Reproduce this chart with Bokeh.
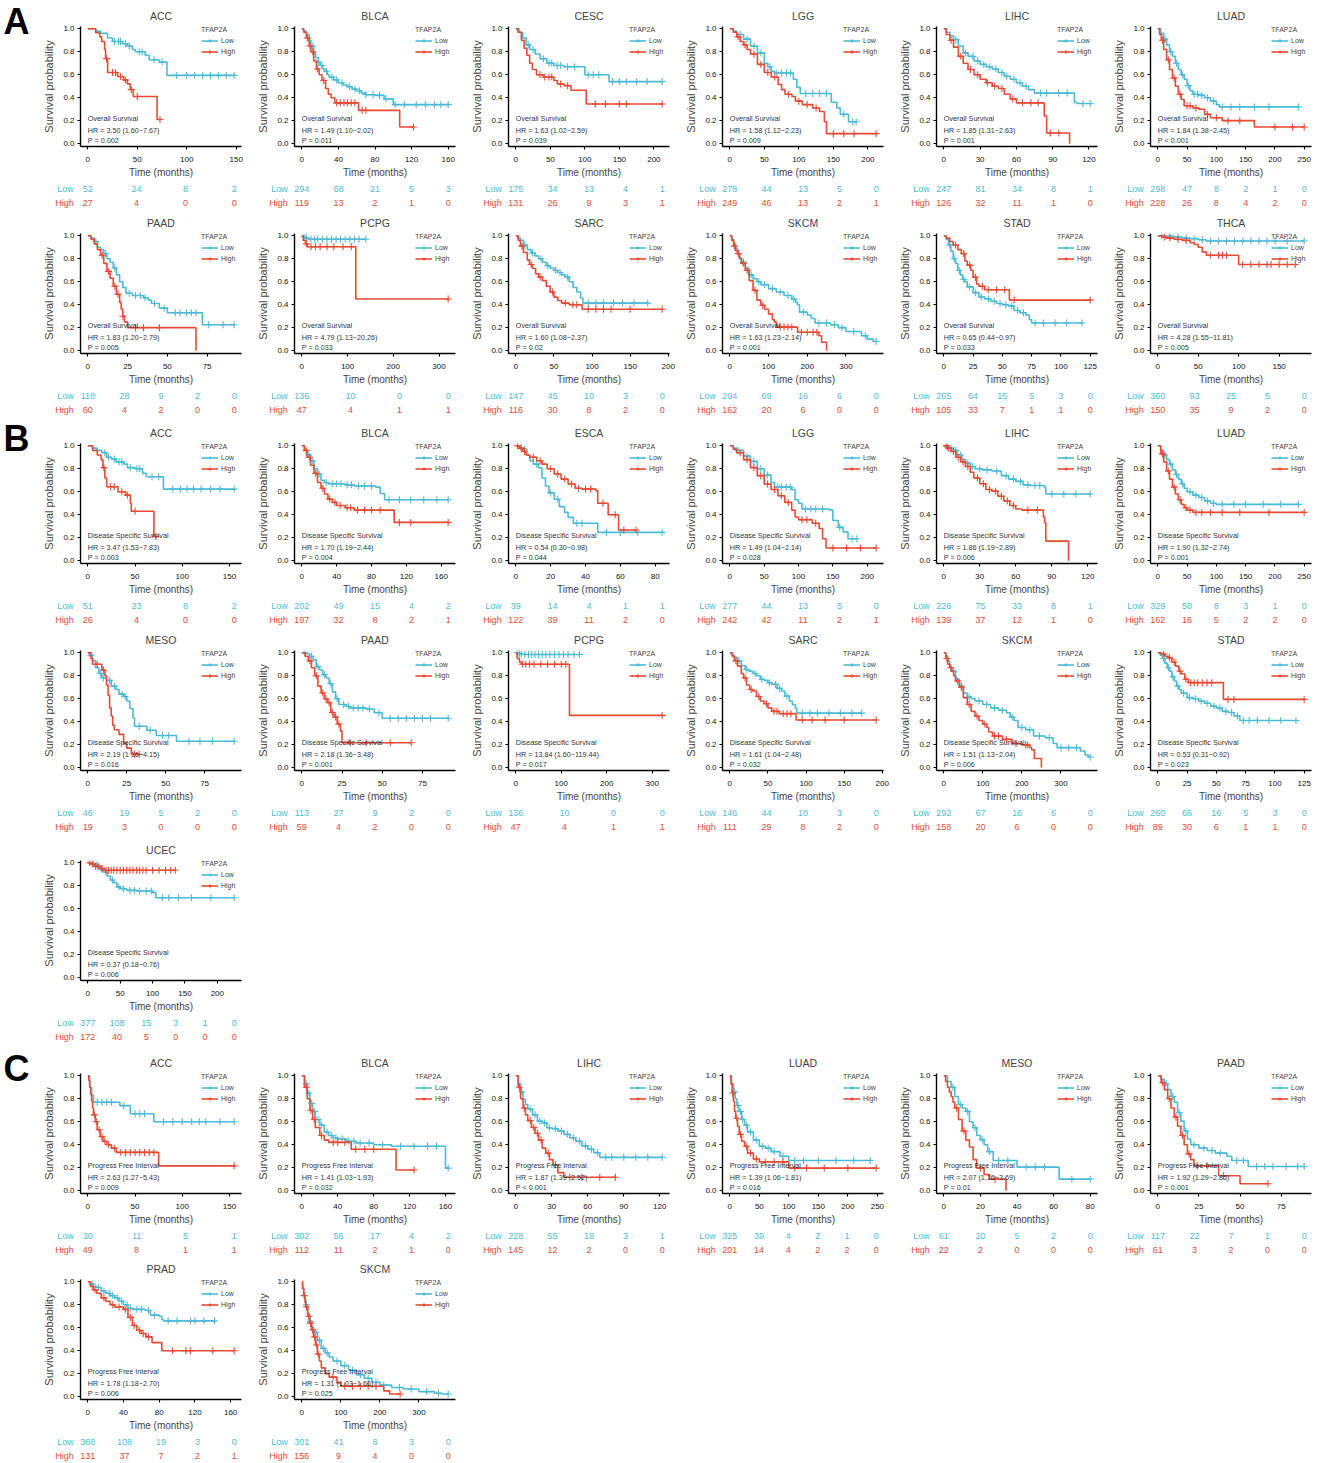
from bokeh.plotting import figure
from bokeh.models import (Range1d, FixedTicker, PrintfTickFormatter, Legend, LegendItem,
                          Label, Spacer)
from bokeh.core.properties import value
from bokeh.layouts import row, column
from bokeh.embed import file_html
from bokeh.resources import INLINE

FONT = "Liberation Sans"
LOW_COLOR = "#4DBBD5"
HIGH_COLOR = "#E64B35"
GROUPS = ["Low", "High"]
LEGEND_TITLE = "TFAP2A"
Y_TICKS = [0.0, 0.2, 0.4, 0.6, 0.8, 1.0]

# ======================= A : Overall Survival =======================
A_ACC_TICKS = [0, 50, 100, 150]
A_ACC_LOW_T = [8, 13, 20, 25, 35, 40, 45, 48, 58, 62, 72, 80, 148]
A_ACC_LOW_S = [.98, .96, .92, .89, .87, .85, .82, .80, .77, .73, .71, .594, .594]
A_ACC_LOW_C = [27, 31, 33, 38, 42, 52, 55, 67, 75, 90, 100, 108, 116, 124, 132, 140, 148]
A_ACC_HIGH_T = [8, 12, 14, 17, 18, 20, 30, 36, 40, 43, 46, 70, 73]
A_ACC_HIGH_S = [.965, .93, .89, .82, .74, .62, .585, .555, .52, .47, .41, .21, .21]
A_ACC_HIGH_C = [19, 25, 28, 33, 38, 44, 50, 73]
A_ACC_RISK_LOW = [52, 24, 8, 2]
A_ACC_RISK_HIGH = [27, 4, 0, 0]

A_BLCA_TICKS = [0, 40, 80, 120, 160]
A_BLCA_LOW_T = [2, 5, 8, 10, 13, 15, 18, 20, 23, 25, 28, 30, 35, 40, 45, 50, 55, 60, 65, 70, 80, 90, 100, 160]
A_BLCA_LOW_S = [.98, .95, .90, .85, .79, .75, .71, .68, .65, .63, .60, .58, .555, .53, .51, .495, .475, .46, .44, .426, .42, .39, .34, .34]
A_BLCA_LOW_C = [12, 18, 22, 27, 33, 38, 44, 52, 58, 63, 70, 78, 85, 92, 102, 112, 125, 135, 145, 152, 160]
A_BLCA_HIGH_T = [2, 5, 8, 10, 13, 16, 19, 22, 26, 29, 32, 36, 62, 107, 122]
A_BLCA_HIGH_S = [.97, .92, .85, .80, .72, .65, .60, .55, .48, .43, .40, .355, .29, .145, .145]
A_BLCA_HIGH_C = [6, 9, 12, 17, 24, 38, 42, 46, 50, 54, 58, 66, 70, 122]
A_BLCA_RISK_LOW = [294, 68, 21, 5, 3]
A_BLCA_RISK_HIGH = [119, 13, 2, 1, 0]

A_CESC_TICKS = [0, 50, 100, 150, 200]
A_CESC_LOW_T = [5, 10, 15, 20, 28, 35, 45, 55, 70, 100, 135, 212]
A_CESC_LOW_S = [.97, .92, .86, .82, .78, .74, .70, .68, .67, .60, .54, .54]
A_CESC_LOW_C = [18, 25, 40, 48, 52, 60, 65, 75, 85, 105, 112, 120, 140, 150, 160, 175, 190, 212]
A_CESC_HIGH_T = [3, 8, 12, 16, 20, 24, 30, 40, 55, 60, 70, 80, 102, 212]
A_CESC_HIGH_S = [.97, .90, .83, .77, .70, .645, .60, .58, .55, .52, .505, .465, .345, .345]
A_CESC_HIGH_C = [35, 42, 48, 52, 65, 75, 115, 130, 150, 160, 212]
A_CESC_RISK_LOW = [175, 34, 13, 4, 1]
A_CESC_RISK_HIGH = [131, 26, 9, 3, 1]

A_LGG_TICKS = [0, 50, 100, 150, 200]
A_LGG_LOW_T = [5, 10, 20, 30, 40, 50, 55, 60, 65, 92, 97, 102, 147, 155, 160, 172, 183]
A_LGG_LOW_S = [.98, .95, .91, .85, .79, .70, .67, .63, .615, .56, .49, .437, .36, .31, .255, .19, .19]
A_LGG_LOW_C = [15, 25, 35, 45, 58, 68, 75, 82, 88, 110, 120, 130, 140, 165, 178, 183]
A_LGG_HIGH_T = [5, 10, 15, 20, 25, 30, 40, 50, 60, 70, 75, 80, 90, 95, 105, 120, 130, 137, 140, 212]
A_LGG_HIGH_S = [.97, .93, .89, .86, .82, .78, .69, .62, .58, .515, .47, .43, .41, .37, .34, .31, .28, .19, .087, .087]
A_LGG_HIGH_C = [12, 22, 35, 45, 55, 65, 85, 100, 112, 125, 150, 165, 180, 212]
A_LGG_RISK_LOW = [278, 44, 13, 5, 0]
A_LGG_RISK_HIGH = [249, 46, 13, 2, 1]

A_LIHC_TICKS = [0, 30, 60, 90, 120]
A_LIHC_LOW_T = [2, 5, 8, 12, 16, 20, 25, 30, 35, 40, 45, 50, 55, 60, 65, 70, 75, 108, 110, 121]
A_LIHC_LOW_S = [.97, .94, .907, .85, .79, .76, .72, .69, .67, .65, .62, .587, .56, .53, .50, .47, .44, .36, .35, .35]
A_LIHC_LOW_C = [10, 18, 24, 28, 33, 38, 43, 48, 52, 58, 63, 68, 80, 85, 95, 102, 115, 121]
A_LIHC_HIGH_T = [2, 5, 8, 12, 16, 20, 25, 30, 35, 40, 45, 50, 55, 60, 83, 85, 104]
A_LIHC_HIGH_S = [.95, .90, .84, .76, .70, .645, .60, .56, .53, .50, .48, .43, .39, .355, .24, .093, 0.0]
A_LIHC_HIGH_C = [6, 14, 22, 28, 36, 42, 48, 57, 65, 72, 78, 88, 95]
A_LIHC_RISK_LOW = [247, 81, 34, 8, 1]
A_LIHC_RISK_HIGH = [126, 32, 11, 1, 0]

A_LUAD_TICKS = [0, 50, 100, 150, 200, 250]
A_LUAD_LOW_T = [5, 10, 15, 20, 25, 30, 35, 40, 45, 50, 55, 60, 70, 80, 90, 100, 105, 240]
A_LUAD_LOW_S = [.96, .91, .86, .80, .76, .70, .645, .60, .56, .505, .46, .43, .42, .40, .37, .34, .32, .32]
A_LUAD_LOW_C = [12, 22, 32, 42, 52, 62, 68, 75, 85, 95, 110, 125, 140, 165, 190, 240]
A_LUAD_HIGH_T = [3, 6, 10, 15, 20, 25, 30, 35, 40, 45, 60, 70, 80, 90, 110, 165, 250]
A_LUAD_HIGH_S = [.95, .90, .82, .73, .645, .57, .50, .43, .384, .33, .31, .30, .255, .225, .20, .145, .145]
A_LUAD_HIGH_C = [8, 18, 28, 38, 50, 55, 65, 85, 100, 120, 140, 200, 230, 250]
A_LUAD_RISK_LOW = [298, 47, 8, 2, 1, 0]
A_LUAD_RISK_HIGH = [228, 26, 8, 4, 2, 0]

A_PAAD_TICKS = [0, 25, 50, 75]
A_PAAD_LOW_T = [2, 4, 6, 8, 10, 12, 14, 16, 18, 20, 22, 24, 28, 35, 38, 40, 45, 50, 72, 92]
A_PAAD_LOW_S = [.98, .95, .90, .88, .845, .80, .77, .72, .66, .60, .55, .50, .48, .46, .44, .41, .37, .33, .225, .225]
A_PAAD_LOW_C = [5, 11, 17, 26, 30, 33, 36, 42, 48, 55, 58, 62, 65, 68, 76, 85, 92]
A_PAAD_HIGH_T = [2, 4, 6, 8, 10, 12, 14, 16, 18, 20, 21, 22, 23, 25, 68]
A_PAAD_HIGH_S = [.97, .93, .88, .83, .76, .69, .63, .56, .49, .42, .36, .30, .25, .20, 0.0]
A_PAAD_HIGH_C = [9, 13, 17, 19, 22, 30, 35, 45]
A_PAAD_RISK_LOW = [118, 28, 9, 2, 0]
A_PAAD_RISK_HIGH = [60, 4, 2, 0, 0]

A_PCPG_TICKS = [0, 100, 200, 300]
A_PCPG_LOW_T = [3, 8, 15, 140]
A_PCPG_LOW_S = [.99, .98, .97, .97]
A_PCPG_LOW_C = [5, 10, 20, 28, 35, 45, 55, 65, 75, 85, 95, 105, 115, 125, 140]
A_PCPG_HIGH_T = [3, 8, 12, 118, 320]
A_PCPG_HIGH_S = [.96, .93, .904, .45, .45]
A_PCPG_HIGH_C = [10, 20, 30, 40, 55, 70, 90, 108, 320]
A_PCPG_RISK_LOW = [136, 10, 0, 0]
A_PCPG_RISK_HIGH = [47, 4, 1, 1]

A_SARC_TICKS = [0, 50, 100, 150, 200]
A_SARC_LOW_T = [3, 6, 10, 15, 20, 25, 30, 35, 40, 45, 50, 55, 60, 65, 70, 75, 80, 85, 88, 173]
A_SARC_LOW_S = [.98, .96, .92, .88, .85, .825, .80, .77, .74, .72, .70, .68, .66, .64, .60, .55, .51, .458, .414, .414]
A_SARC_LOW_C = [12, 22, 33, 42, 52, 58, 68, 95, 105, 115, 128, 140, 155, 173]
A_SARC_HIGH_T = [3, 6, 10, 15, 18, 22, 26, 30, 35, 40, 45, 50, 55, 60, 70, 87, 192]
A_SARC_HIGH_S = [.96, .91, .855, .79, .75, .715, .67, .64, .61, .56, .51, .466, .437, .414, .40, .36, .36]
A_SARC_HIGH_C = [8, 20, 32, 48, 65, 75, 80, 95, 105, 115, 125, 150, 192]
A_SARC_RISK_LOW = [147, 45, 10, 3, 0]
A_SARC_RISK_HIGH = [116, 30, 8, 2, 0]

A_SKCM_TICKS = [0, 100, 200, 300]
A_SKCM_LOW_T = [5, 10, 15, 20, 25, 30, 40, 50, 60, 70, 80, 100, 120, 140, 160, 170, 175, 180, 200, 210, 220, 260, 280, 300, 340, 355, 370, 378]
A_SKCM_LOW_S = [.97, .93, .89, .85, .81, .77, .715, .66, .627, .60, .575, .54, .51, .48, .45, .42, .40, .335, .31, .28, .24, .225, .20, .166, .13, .10, .08, .08]
A_SKCM_LOW_C = [35, 55, 75, 90, 110, 130, 150, 165, 190, 230, 250, 270, 290, 320, 350, 378]
A_SKCM_HIGH_T = [5, 10, 15, 20, 25, 30, 40, 50, 60, 70, 80, 90, 100, 110, 115, 120, 175, 230, 237, 250]
A_SKCM_HIGH_S = [.96, .91, .87, .845, .80, .76, .70, .61, .525, .44, .395, .36, .32, .27, .25, .205, .16, .13, .073, 0.0]
A_SKCM_HIGH_C = [12, 22, 35, 45, 65, 85, 130, 140, 150, 160, 185, 200, 215, 225]
A_SKCM_RISK_LOW = [294, 69, 16, 6, 0]
A_SKCM_RISK_HIGH = [162, 20, 6, 0, 0]

A_STAD_TICKS = [0, 25, 50, 75, 100, 125]
A_STAD_LOW_T = [2, 4, 6, 8, 10, 12, 14, 16, 18, 20, 25, 30, 35, 40, 45, 50, 55, 60, 65, 70, 73, 75, 118]
A_STAD_LOW_S = [.97, .92, .866, .80, .76, .70, .66, .62, .60, .555, .505, .467, .45, .43, .41, .40, .39, .35, .33, .31, .27, .24, .24]
A_STAD_LOW_C = [5, 9, 13, 17, 22, 27, 32, 38, 43, 48, 53, 58, 63, 68, 78, 85, 95, 105, 118]
A_STAD_HIGH_T = [2, 5, 8, 12, 15, 18, 20, 23, 25, 28, 30, 35, 56, 125]
A_STAD_HIGH_S = [.98, .95, .92, .88, .845, .78, .745, .70, .64, .58, .56, .53, .44, .44]
A_STAD_HIGH_C = [10, 17, 22, 27, 33, 38, 45, 52, 60, 125]
A_STAD_RISK_LOW = [265, 64, 15, 5, 3, 0]
A_STAD_RISK_HIGH = [105, 33, 7, 1, 1, 0]

A_THCA_TICKS = [0, 50, 100, 150]
A_THCA_LOW_T = [10, 20, 30, 40, 50, 60, 181]
A_THCA_LOW_S = [.995, .99, .98, .975, .965, .955, .955]
A_THCA_LOW_C = [5, 15, 25, 35, 45, 55, 65, 75, 85, 95, 105, 115, 125, 135, 145, 160, 181]
A_THCA_HIGH_T = [5, 10, 20, 30, 40, 45, 50, 55, 60, 100, 170]
A_THCA_HIGH_S = [.99, .98, .97, .96, .94, .924, .90, .86, .83, .75, .75]
A_THCA_HIGH_C = [8, 15, 25, 35, 65, 75, 80, 85, 105, 115, 125, 135, 140, 150, 160, 170]
A_THCA_RISK_LOW = [360, 93, 25, 5, 0]
A_THCA_RISK_HIGH = [150, 35, 9, 2, 0]

# ======================= B : Disease Specific Survival =======================
B_ACC_TICKS = [0, 50, 100, 150]
B_ACC_LOW_T = [5, 10, 15, 20, 25, 30, 38, 42, 50, 58, 62, 80, 155]
B_ACC_LOW_S = [.98, .96, .94, .90, .885, .86, .84, .81, .80, .76, .73, .623, .623]
B_ACC_LOW_C = [18, 22, 28, 33, 36, 45, 52, 55, 68, 75, 90, 98, 105, 112, 120, 130, 140, 155]
B_ACC_HIGH_T = [5, 10, 14, 16, 18, 20, 32, 40, 45, 46, 70, 72]
B_ACC_HIGH_S = [.96, .92, .88, .81, .72, .643, .60, .57, .50, .43, .21, .21]
B_ACC_HIGH_C = [17, 24, 28, 36, 42, 50, 72]
B_ACC_RISK_LOW = [51, 23, 8, 2]
B_ACC_RISK_HIGH = [26, 4, 0, 0]

B_BLCA_TICKS = [0, 40, 80, 120, 160]
B_BLCA_LOW_T = [3, 6, 10, 14, 18, 22, 26, 30, 50, 60, 85, 90, 95, 168]
B_BLCA_LOW_S = [.97, .92, .87, .80, .754, .70, .68, .67, .66, .65, .64, .585, .53, .53]
B_BLCA_LOW_C = [8, 12, 20, 28, 35, 40, 45, 52, 57, 65, 72, 80, 100, 112, 125, 140, 155, 168]
B_BLCA_HIGH_T = [3, 6, 10, 14, 18, 22, 26, 30, 35, 40, 50, 60, 106, 168]
B_BLCA_HIGH_S = [.96, .90, .83, .76, .68, .63, .58, .536, .507, .48, .46, .44, .333, .333]
B_BLCA_HIGH_C = [5, 9, 16, 24, 32, 38, 44, 52, 56, 64, 72, 80, 90, 112, 125, 168]
B_BLCA_RISK_LOW = [202, 49, 15, 4, 2]
B_BLCA_RISK_HIGH = [197, 32, 8, 2, 1]

B_ESCA_TICKS = [0, 20, 40, 60, 80]
B_ESCA_LOW_T = [3, 6, 8, 10, 13, 15, 17, 19, 22, 25, 28, 30, 33, 47, 84]
B_ESCA_LOW_S = [.97, .92, .87, .84, .806, .72, .65, .59, .535, .47, .42, .377, .325, .246, .246]
B_ESCA_LOW_C = [5, 12, 20, 24, 35, 38, 52, 60, 70, 84]
B_ESCA_HIGH_T = [2, 4, 6, 8, 12, 15, 18, 22, 26, 30, 34, 38, 46, 47, 53, 59, 69]
B_ESCA_HIGH_S = [.98, .95, .92, .90, .87, .84, .80, .754, .71, .667, .63, .623, .61, .50, .40, .267, .267]
B_ESCA_HIGH_C = [1, 3, 5, 10, 14, 20, 24, 28, 32, 36, 40, 43, 50, 57, 62, 69]
B_ESCA_RISK_LOW = [39, 14, 4, 1, 1]
B_ESCA_RISK_HIGH = [122, 39, 11, 2, 0]

B_LGG_TICKS = [0, 50, 100, 150, 200]
B_LGG_LOW_T = [5, 10, 20, 30, 40, 50, 60, 65, 90, 95, 100, 105, 145, 150, 158, 165, 172, 185]
B_LGG_LOW_S = [.98, .96, .91, .864, .80, .745, .68, .64, .62, .53, .50, .45, .44, .35, .29, .25, .19, .19]
B_LGG_LOW_C = [12, 25, 35, 45, 55, 70, 75, 82, 88, 110, 118, 125, 135, 160, 178, 185]
B_LGG_HIGH_T = [5, 10, 20, 30, 40, 50, 60, 70, 80, 90, 95, 100, 120, 130, 135, 140, 213]
B_LGG_HIGH_S = [.97, .94, .88, .81, .74, .667, .62, .565, .507, .44, .38, .357, .325, .28, .19, .11, .11]
B_LGG_HIGH_C = [15, 25, 35, 45, 55, 65, 75, 85, 105, 112, 125, 150, 170, 190, 213]
B_LGG_RISK_LOW = [277, 44, 13, 5, 0]
B_LGG_RISK_HIGH = [242, 42, 11, 2, 1]

B_LIHC_TICKS = [0, 30, 60, 90, 120]
B_LIHC_LOW_T = [2, 5, 8, 11, 15, 18, 22, 26, 32, 40, 48, 54, 60, 66, 72, 84, 85, 122]
B_LIHC_LOW_S = [.99, .98, .96, .92, .88, .85, .82, .80, .79, .78, .74, .71, .69, .66, .654, .64, .58, .58]
B_LIHC_LOW_C = [3, 6, 10, 14, 20, 24, 30, 36, 44, 52, 58, 64, 70, 76, 80, 90, 100, 110, 122]
B_LIHC_HIGH_T = [3, 6, 10, 14, 18, 22, 25, 30, 35, 40, 45, 50, 55, 60, 65, 83, 84, 85, 104]
B_LIHC_HIGH_S = [.98, .95, .90, .86, .82, .77, .72, .67, .62, .605, .56, .52, .48, .45, .44, .38, .33, .17, 0.0]
B_LIHC_HIGH_C = [2, 4, 8, 12, 16, 20, 28, 33, 38, 43, 48, 53, 58, 70, 78]
B_LIHC_RISK_LOW = [226, 75, 33, 8, 1]
B_LIHC_RISK_HIGH = [139, 37, 12, 1, 0]

B_LUAD_TICKS = [0, 50, 100, 150, 200, 250]
B_LUAD_LOW_T = [5, 10, 15, 20, 25, 30, 35, 40, 45, 50, 60, 70, 80, 90, 100, 240]
B_LUAD_LOW_S = [.96, .92, .88, .84, .79, .75, .71, .67, .63, .60, .57, .55, .52, .50, .49, .49]
B_LUAD_LOW_C = [12, 22, 32, 42, 55, 65, 75, 85, 95, 110, 130, 150, 180, 210, 240]
B_LUAD_HIGH_T = [5, 10, 15, 20, 25, 30, 35, 40, 45, 50, 60, 250]
B_LUAD_HIGH_S = [.93, .86, .78, .71, .64, .58, .53, .49, .46, .44, .42, .42]
B_LUAD_HIGH_C = [8, 18, 28, 38, 48, 55, 65, 75, 90, 110, 140, 190, 250]
B_LUAD_RISK_LOW = [329, 50, 8, 3, 1, 0]
B_LUAD_RISK_HIGH = [162, 16, 5, 2, 2, 0]

B_MESO_TICKS = [0, 25, 50, 75]
B_MESO_LOW_T = [1, 3, 5, 7, 9, 12, 15, 18, 20, 23, 25, 27, 29, 30, 38, 44, 57, 94]
B_MESO_LOW_S = [.98, .93, .87, .82, .78, .76, .71, .68, .64, .62, .58, .515, .435, .36, .325, .28, .23, .23]
B_MESO_LOW_C = [2, 8, 10, 14, 17, 22, 24, 33, 40, 48, 52, 65, 72, 80, 94]
B_MESO_HIGH_T = [2, 3, 9, 11, 12, 13, 14, 15, 16, 17, 20, 23, 25, 28, 33]
B_MESO_HIGH_S = [.95, .90, .85, .80, .72, .63, .52, .45, .37, .33, .29, .21, .17, .116, .116]
B_MESO_HIGH_C = [6, 10, 30, 33]
B_MESO_RISK_LOW = [46, 19, 5, 2, 0]
B_MESO_RISK_HIGH = [19, 3, 0, 0, 0]

B_PAAD_TICKS = [0, 25, 50, 75]
B_PAAD_LOW_T = [3, 5, 7, 9, 11, 13, 15, 17, 19, 21, 23, 27, 30, 40, 45, 50, 91]
B_PAAD_LOW_S = [.99, .97, .94, .88, .85, .81, .78, .73, .66, .60, .55, .535, .52, .51, .478, .43, .43]
B_PAAD_LOW_C = [2, 6, 10, 14, 18, 22, 26, 29, 32, 35, 38, 42, 48, 55, 60, 65, 70, 75, 80, 91]
B_PAAD_HIGH_T = [2, 4, 6, 8, 10, 12, 14, 16, 18, 20, 22, 24, 25, 68]
B_PAAD_HIGH_S = [.97, .93, .87, .80, .71, .65, .60, .565, .48, .44, .38, .32, .217, .217]
B_PAAD_HIGH_C = [5, 9, 13, 15, 17, 19, 21, 23, 30, 40, 55, 68]
B_PAAD_RISK_LOW = [113, 27, 9, 2, 0]
B_PAAD_RISK_HIGH = [59, 4, 2, 0, 0]

B_PCPG_TICKS = [0, 100, 200, 300]
B_PCPG_LOW_T = [5, 15, 140]
B_PCPG_LOW_S = [.99, .985, .985]
B_PCPG_LOW_C = [3, 8, 12, 20, 28, 35, 42, 50, 58, 66, 75, 85, 95, 105, 115, 128, 140]
B_PCPG_HIGH_T = [3, 8, 12, 118, 322]
B_PCPG_HIGH_S = [.95, .92, .90, .455, .455]
B_PCPG_HIGH_C = [15, 22, 30, 40, 55, 70, 85, 100, 110, 322]
B_PCPG_RISK_LOW = [136, 10, 0, 0]
B_PCPG_RISK_HIGH = [47, 4, 1, 1]

B_SARC_TICKS = [0, 50, 100, 150, 200]
B_SARC_LOW_T = [3, 6, 10, 15, 20, 25, 30, 35, 40, 45, 50, 55, 62, 68, 72, 78, 82, 86, 88, 173]
B_SARC_LOW_S = [.98, .96, .93, .89, .855, .84, .82, .80, .77, .76, .74, .725, .69, .667, .623, .58, .55, .516, .475, .475]
B_SARC_LOW_C = [12, 22, 33, 42, 52, 60, 65, 75, 95, 105, 115, 130, 145, 160, 173]
B_SARC_HIGH_T = [3, 6, 10, 15, 18, 22, 26, 30, 35, 40, 45, 50, 55, 65, 87, 192]
B_SARC_HIGH_S = [.97, .93, .884, .82, .78, .72, .68, .667, .62, .58, .557, .52, .49, .47, .415, .415]
B_SARC_HIGH_C = [8, 20, 28, 38, 48, 58, 62, 70, 75, 80, 95, 108, 125, 150, 192]
B_SARC_RISK_LOW = [146, 44, 10, 3, 0]
B_SARC_RISK_HIGH = [111, 29, 8, 2, 0]

B_SKCM_TICKS = [0, 100, 200, 300]
B_SKCM_LOW_T = [5, 10, 15, 20, 30, 40, 50, 60, 70, 80, 100, 120, 140, 160, 170, 180, 190, 210, 230, 260, 280, 290, 350, 362, 370, 375]
B_SKCM_LOW_S = [.97, .93, .88, .84, .77, .71, .65, .615, .60, .58, .55, .52, .50, .478, .44, .41, .35, .33, .275, .26, .21, .174, .145, .11, .093, .093]
B_SKCM_LOW_C = [25, 45, 65, 90, 110, 130, 150, 175, 200, 220, 245, 270, 300, 320, 340, 375]
B_SKCM_HIGH_T = [5, 10, 15, 20, 25, 30, 40, 50, 60, 70, 80, 90, 100, 110, 115, 125, 150, 175, 200, 220, 225, 232, 250]
B_SKCM_HIGH_S = [.95, .90, .87, .84, .80, .754, .70, .61, .55, .49, .45, .41, .38, .35, .31, .275, .246, .21, .197, .175, .155, .08, 0.0]
B_SKCM_HIGH_C = [8, 18, 35, 45, 65, 85, 105, 130, 140, 160, 185, 210, 215]
B_SKCM_RISK_LOW = [292, 67, 16, 6, 0]
B_SKCM_RISK_HIGH = [158, 20, 6, 0, 0]

B_STAD_TICKS = [0, 25, 50, 75, 100, 125]
B_STAD_LOW_T = [2, 4, 6, 8, 10, 12, 14, 16, 18, 20, 25, 30, 35, 40, 45, 50, 55, 60, 65, 70, 118]
B_STAD_LOW_S = [.98, .95, .91, .87, .84, .79, .754, .71, .68, .65, .61, .60, .58, .56, .536, .52, .49, .48, .45, .41, .41]
B_STAD_LOW_C = [5, 9, 13, 17, 22, 27, 32, 37, 42, 48, 53, 58, 63, 68, 73, 78, 85, 95, 105, 118]
B_STAD_HIGH_T = [3, 6, 9, 12, 15, 18, 20, 23, 26, 56, 125]
B_STAD_HIGH_S = [.99, .97, .956, .92, .884, .84, .817, .77, .74, .594, .594]
B_STAD_HIGH_C = [5, 10, 14, 19, 24, 28, 31, 34, 38, 42, 46, 60, 65, 125]
B_STAD_RISK_LOW = [260, 66, 16, 5, 3, 0]
B_STAD_RISK_HIGH = [89, 30, 6, 1, 1, 0]

B_UCEC_TICKS = [0, 50, 100, 150, 200]
B_UCEC_LOW_T = [5, 10, 15, 20, 25, 30, 35, 40, 45, 50, 60, 75, 100, 105, 226]
B_UCEC_LOW_S = [.99, .98, .96, .94, .92, .885, .85, .826, .79, .774, .76, .754, .74, .696, .696]
B_UCEC_LOW_C = [8, 14, 22, 28, 38, 48, 55, 65, 72, 80, 90, 98, 115, 125, 140, 160, 190, 226]
B_UCEC_HIGH_T = [5, 10, 20, 25, 135]
B_UCEC_HIGH_S = [.99, .97, .95, .935, .935]
B_UCEC_HIGH_C = [3, 8, 12, 16, 22, 28, 32, 36, 40, 45, 50, 55, 60, 65, 70, 75, 80, 85, 90, 100, 110, 120, 128, 135]
B_UCEC_RISK_LOW = [377, 108, 15, 3, 1, 0]
B_UCEC_RISK_HIGH = [172, 40, 5, 0, 0, 0]

# ======================= C : Progress Free Interval =======================
C_ACC_TICKS = [0, 50, 100, 150]
C_ACC_LOW_T = [2, 4, 6, 34, 45, 70, 155]
C_ACC_LOW_S = [.90, .83, .77, .74, .67, .60, .60]
C_ACC_LOW_C = [10, 15, 20, 25, 38, 50, 55, 60, 80, 90, 100, 110, 118, 125, 140, 155]
C_ACC_HIGH_T = [1, 2, 3, 4, 5, 6, 8, 10, 13, 16, 20, 25, 30, 75, 155]
C_ACC_HIGH_S = [.96, .90, .84, .78, .72, .66, .60, .53, .47, .43, .40, .37, .333, .216, .216]
C_ACC_HIGH_C = [7, 9, 12, 15, 18, 22, 28, 35, 40, 45, 50, 55, 60, 65, 70, 155]
C_ACC_RISK_LOW = [30, 11, 5, 1]
C_ACC_RISK_HIGH = [49, 8, 1, 1]

C_BLCA_TICKS = [0, 40, 80, 120, 160]
C_BLCA_LOW_T = [3, 6, 9, 12, 15, 20, 25, 30, 35, 40, 50, 60, 80, 100, 160, 163]
C_BLCA_LOW_S = [.93, .85, .76, .69, .62, .57, .51, .48, .46, .45, .43, .415, .40, .386, .196, .196]
C_BLCA_LOW_C = [5, 8, 11, 14, 18, 22, 28, 33, 38, 45, 52, 58, 65, 75, 90, 110, 125, 140, 150, 163]
C_BLCA_HIGH_T = [3, 6, 9, 12, 15, 20, 25, 30, 55, 105, 125]
C_BLCA_HIGH_S = [.90, .80, .70, .62, .55, .48, .44, .42, .36, .18, .18]
C_BLCA_HIGH_C = [5, 10, 14, 22, 35, 40, 48, 60, 70, 80, 125]
C_BLCA_RISK_LOW = [302, 56, 17, 4, 2]
C_BLCA_RISK_HIGH = [112, 11, 2, 1, 0]

C_LIHC_TICKS = [0, 30, 60, 90, 120]
C_LIHC_LOW_T = [2, 4, 6, 8, 10, 14, 18, 22, 26, 30, 35, 40, 45, 50, 55, 60, 65, 70, 122]
C_LIHC_LOW_S = [.93, .86, .795, .75, .71, .66, .605, .59, .547, .54, .52, .49, .46, .43, .39, .36, .33, .29, .29]
C_LIHC_LOW_C = [5, 12, 16, 20, 24, 28, 33, 38, 43, 48, 53, 58, 63, 68, 75, 80, 90, 100, 110, 122]
C_LIHC_HIGH_T = [2, 4, 6, 8, 10, 13, 16, 19, 22, 25, 28, 31, 35, 40, 83]
C_LIHC_HIGH_S = [.90, .80, .72, .66, .61, .55, .50, .44, .37, .327, .27, .225, .157, .117, .117]
C_LIHC_HIGH_C = [3, 7, 12, 15, 18, 21, 27, 33, 45, 55, 70, 83]
C_LIHC_RISK_LOW = [228, 55, 18, 3, 1]
C_LIHC_RISK_HIGH = [145, 12, 2, 0, 0]

C_LUAD_TICKS = [0, 50, 100, 150, 200, 250]
C_LUAD_LOW_T = [3, 6, 9, 12, 15, 20, 25, 30, 40, 50, 60, 70, 85, 100, 238]
C_LUAD_LOW_S = [.93, .86, .80, .74, .69, .62, .57, .51, .44, .386, .37, .34, .30, .263, .263]
C_LUAD_LOW_C = [8, 14, 18, 22, 28, 35, 45, 55, 65, 75, 90, 110, 125, 150, 180, 210, 238]
C_LUAD_HIGH_T = [2, 4, 6, 8, 10, 13, 16, 20, 25, 30, 40, 50, 100, 248]
C_LUAD_HIGH_S = [.93, .85, .78, .69, .63, .56, .49, .43, .386, .327, .275, .25, .196, .196]
C_LUAD_HIGH_C = [5, 12, 18, 28, 35, 45, 60, 75, 90, 110, 130, 160, 200, 248]
C_LUAD_RISK_LOW = [325, 39, 4, 2, 1, 0]
C_LUAD_RISK_HIGH = [201, 14, 4, 2, 2, 0]

C_MESO_TICKS = [0, 20, 40, 60, 80]
C_MESO_LOW_T = [2, 4, 6, 8, 10, 12, 14, 16, 18, 20, 22, 24, 27, 40, 63, 80]
C_MESO_LOW_S = [.95, .90, .82, .75, .72, .69, .60, .547, .48, .444, .40, .34, .263, .205, .10, .10]
C_MESO_LOW_C = [5, 9, 13, 17, 21, 25, 30, 35, 45, 50, 55, 70, 80]
C_MESO_HIGH_T = [1, 2, 3, 4, 5, 6, 8, 10, 12, 14, 16, 18, 22, 25, 34]
C_MESO_HIGH_S = [.95, .90, .86, .82, .77, .72, .62, .52, .44, .38, .27, .196, .14, .10, 0.0]
C_MESO_HIGH_C = [7, 11, 20, 28]
C_MESO_RISK_LOW = [61, 20, 5, 2, 0]
C_MESO_RISK_HIGH = [22, 2, 0, 0, 0]

C_PAAD_TICKS = [0, 25, 50, 75]
C_PAAD_LOW_T = [2, 4, 6, 8, 10, 12, 14, 16, 18, 20, 25, 30, 35, 42, 45, 55, 89]
C_PAAD_LOW_S = [.97, .93, .88, .82, .77, .68, .605, .52, .45, .40, .37, .35, .327, .30, .263, .21, .21]
C_PAAD_LOW_C = [5, 9, 13, 17, 22, 28, 33, 38, 48, 52, 60, 65, 70, 78, 85, 89]
C_PAAD_HIGH_T = [2, 4, 6, 8, 10, 12, 14, 16, 18, 20, 22, 37, 50, 67]
C_PAAD_HIGH_S = [.94, .88, .80, .72, .64, .56, .48, .40, .32, .27, .216, .13, .06, .06]
C_PAAD_HIGH_C = [3, 7, 11, 15, 19, 24, 30, 40, 67]
C_PAAD_RISK_LOW = [117, 22, 7, 1, 0]
C_PAAD_RISK_HIGH = [61, 3, 2, 0, 0]

C_PRAD_TICKS = [0, 40, 80, 120, 160]
C_PRAD_LOW_T = [3, 6, 10, 15, 20, 25, 30, 35, 40, 45, 50, 65, 70, 80, 83, 85, 142]
C_PRAD_LOW_S = [.98, .96, .95, .92, .90, .88, .86, .83, .80, .77, .76, .75, .71, .70, .67, .66, .66]
C_PRAD_LOW_C = [5, 12, 18, 24, 28, 33, 38, 44, 48, 55, 60, 68, 75, 90, 100, 115, 120, 130, 142]
C_PRAD_HIGH_T = [3, 6, 10, 15, 20, 25, 30, 40, 45, 50, 55, 60, 65, 72, 83, 164]
C_PRAD_HIGH_S = [.96, .93, .90, .86, .83, .80, .78, .76, .69, .62, .577, .55, .52, .47, .40, .40]
C_PRAD_HIGH_C = [8, 18, 28, 35, 42, 48, 52, 58, 62, 68, 95, 110, 115, 140, 164]
C_PRAD_RISK_LOW = [368, 108, 19, 3, 0]
C_PRAD_RISK_HIGH = [131, 37, 7, 2, 1]

C_SKCM_TICKS = [0, 100, 200, 300]
C_SKCM_LOW_T = [2, 5, 8, 10, 15, 20, 25, 30, 40, 50, 60, 70, 80, 100, 120, 140, 160, 180, 200, 230, 260, 300, 340, 360, 375]
C_SKCM_LOW_S = [.95, .90, .85, .80, .72, .655, .60, .56, .49, .42, .38, .345, .31, .27, .23, .19, .16, .125, .10, .08, .067, .044, .03, .023, .023]
C_SKCM_LOW_C = [12, 22, 35, 45, 55, 65, 90, 110, 130, 150, 170, 190, 210, 250, 280, 320, 350, 375]
C_SKCM_HIGH_T = [2, 5, 8, 10, 15, 20, 25, 30, 35, 40, 45, 50, 60, 70, 90, 100, 210, 225, 252]
C_SKCM_HIGH_S = [.94, .88, .82, .78, .70, .64, .58, .52, .45, .37, .31, .25, .20, .17, .12, .09, .05, .023, .023]
C_SKCM_HIGH_C = [6, 12, 18, 22, 28, 33, 38, 42, 80, 110, 130, 150, 170, 190, 252]
C_SKCM_RISK_LOW = [301, 41, 8, 3, 0]
C_SKCM_RISK_HIGH = [156, 9, 4, 0, 0]

OS = "Overall Survival"
DSS = "Disease Specific Survival"
PFI = "Progress Free Interval"

# (data key, title, endpoint, HR text, P text)
ROWS = [
    ("A", [("A_ACC", "ACC", OS, "HR = 3.50 (1.60\u22127.67)", "P = 0.002"),
           ("A_BLCA", "BLCA", OS, "HR = 1.49 (1.10\u22122.02)", "P = 0.011"),
           ("A_CESC", "CESC", OS, "HR = 1.63 (1.02\u22122.59)", "P = 0.039"),
           ("A_LGG", "LGG", OS, "HR = 1.58 (1.12\u22122.23)", "P = 0.009"),
           ("A_LIHC", "LIHC", OS, "HR = 1.85 (1.31\u22122.63)", "P = 0.001"),
           ("A_LUAD", "LUAD", OS, "HR = 1.84 (1.38\u22122.45)", "P < 0.001")]),
    (None, [("A_PAAD", "PAAD", OS, "HR = 1.83 (1.20\u22122.79)", "P = 0.005"),
            ("A_PCPG", "PCPG", OS, "HR = 4.79 (1.13\u221220.26)", "P = 0.033"),
            ("A_SARC", "SARC", OS, "HR = 1.60 (1.08\u22122.37)", "P = 0.02"),
            ("A_SKCM", "SKCM", OS, "HR = 1.63 (1.23\u22122.14)", "P = 0.001"),
            ("A_STAD", "STAD", OS, "HR = 0.65 (0.44\u22120.97)", "P = 0.033"),
            ("A_THCA", "THCA", OS, "HR = 4.28 (1.55\u221211.81)", "P = 0.005")]),
    ("B", [("B_ACC", "ACC", DSS, "HR = 3.47 (1.53\u22127.83)", "P = 0.003"),
           ("B_BLCA", "BLCA", DSS, "HR = 1.70 (1.19\u22122.44)", "P = 0.004"),
           ("B_ESCA", "ESCA", DSS, "HR = 0.54 (0.30\u22120.98)", "P = 0.044"),
           ("B_LGG", "LGG", DSS, "HR = 1.49 (1.04\u22122.14)", "P = 0.028"),
           ("B_LIHC", "LIHC", DSS, "HR = 1.86 (1.19\u22122.89)", "P = 0.006"),
           ("B_LUAD", "LUAD", DSS, "HR = 1.90 (1.32\u22122.74)", "P = 0.001")]),
    (None, [("B_MESO", "MESO", DSS, "HR = 2.19 (1.16\u22124.15)", "P = 0.016"),
            ("B_PAAD", "PAAD", DSS, "HR = 2.18 (1.36\u22123.48)", "P = 0.001"),
            ("B_PCPG", "PCPG", DSS, "HR = 13.84 (1.60\u2212119.44)", "P = 0.017"),
            ("B_SARC", "SARC", DSS, "HR = 1.61 (1.04\u22122.48)", "P = 0.032"),
            ("B_SKCM", "SKCM", DSS, "HR = 1.51 (1.13\u22122.04)", "P = 0.006"),
            ("B_STAD", "STAD", DSS, "HR = 0.53 (0.31\u22120.92)", "P = 0.023")]),
    (None, [("B_UCEC", "UCEC", DSS, "HR = 0.37 (0.18\u22120.76)", "P = 0.006")]),
    ("C", [("C_ACC", "ACC", PFI, "HR = 2.63 (1.27\u22125.43)", "P = 0.009"),
           ("C_BLCA", "BLCA", PFI, "HR = 1.41 (1.03\u22121.93)", "P = 0.032"),
           ("C_LIHC", "LIHC", PFI, "HR = 1.87 (1.39\u22122.52)", "P < 0.001"),
           ("C_LUAD", "LUAD", PFI, "HR = 1.39 (1.06\u22121.81)", "P = 0.016"),
           ("C_MESO", "MESO", PFI, "HR = 2.07 (1.16\u22123.69)", "P = 0.01"),
           ("C_PAAD", "PAAD", PFI, "HR = 1.92 (1.29\u22122.85)", "P = 0.001")]),
    (None, [("C_PRAD", "PRAD", PFI, "HR = 1.78 (1.18\u22122.70)", "P = 0.006"),
            ("C_SKCM", "SKCM", PFI, "HR = 1.31 (1.03\u22121.66)", "P = 0.025")]),
]

# layout geometry (pixels)
TOP_PAD = 2
ROW_HEIGHTS = [207, 210, 207, 210, 213, 206, 206]
TOP_B = 24
LEAD_W = 40
PANEL_W = 214
LEFT_B = 40
RIGHT_B = 13
FRAME_W = PANEL_W - LEFT_B - RIGHT_B
FRAME_H = 120
KM_BOTTOM = 36
TABLE_EXTRA_LEFT = 36
TABLE_ROW_Y = [6, 20]


def surv_at(ts, ss, t):
    v = 1.0
    for ti, si in zip(ts, ss):
        if ti <= t:
            v = si
    return v


def style_axes(p):
    p.xaxis.axis_label = "Time (months)"
    p.yaxis.axis_label = "Survival probability"
    for ax in (p.xaxis[0], p.yaxis[0]):
        ax.axis_line_width = 1.4
        ax.major_tick_line_width = 1.1
        ax.major_tick_out = 3
        ax.major_tick_in = 0
        ax.minor_tick_line_color = None
        ax.major_label_text_font = FONT
        ax.major_label_text_font_size = "8px"
        ax.major_label_text_color = "#111111"
        ax.axis_label_text_font = FONT
        ax.axis_label_text_font_style = "normal"
    p.xaxis[0].axis_label_text_font_size = "10px"
    p.yaxis[0].axis_label_text_font_size = "11px"
    p.xaxis[0].major_label_standoff = 7
    p.xaxis[0].axis_label_standoff = 2
    p.yaxis[0].major_label_standoff = 3
    p.yaxis[0].axis_label_standoff = 5


def make_panel(spec, row_h):
    key, title, endpoint, hr, pval = spec
    g = globals()
    ticks = g[key + "_TICKS"]
    curves = []
    for grp, color in (("LOW", LOW_COLOR), ("HIGH", HIGH_COLOR)):
        curves.append((g[f"{key}_{grp}_T"], g[f"{key}_{grp}_S"], g[f"{key}_{grp}_C"],
                       g[f"{key}_RISK_{grp}"], color))
    T = max(c[0][-1] for c in curves)
    x0, x1 = -0.05 * T, 1.05 * T

    km_h = TOP_B + FRAME_H + KM_BOTTOM
    p = figure(width=PANEL_W, height=km_h,
               x_range=Range1d(x0, x1), y_range=Range1d(-0.025, 1.02),
               output_backend="svg", toolbar_location=None, title=title,
               min_border_left=LEFT_B, min_border_right=RIGHT_B,
               min_border_top=TOP_B, min_border_bottom=KM_BOTTOM, frame_align=False)
    p.outline_line_color = None
    p.xgrid.visible = False
    p.ygrid.visible = False
    p.title.text_font = FONT
    p.title.text_font_size = "10.5px"
    p.title.text_font_style = "normal"
    p.title.align = "center"
    p.title.standoff = 9
    p.xaxis.ticker = FixedTicker(ticks=ticks)
    p.yaxis.ticker = FixedTicker(ticks=Y_TICKS)
    p.yaxis.formatter = PrintfTickFormatter(format="%.1f")
    style_axes(p)

    items = []
    for (ts, ss, cs, risk, color), name in zip(curves, GROUPS):
        xs = [0] + list(ts)
        ys = [1.0] + list(ss)
        r1 = p.step(xs, ys, mode="after", line_color=color, line_width=1.6)
        cy = [surv_at(ts, ss, c) for c in cs]
        r2 = p.scatter(cs, cy, marker="cross", size=7, line_color=color, line_width=1.1)
        items.append(LegendItem(label=name, renderers=[r1, r2]))

    for txt, yy in ((endpoint, 0.22), (hr, 0.116), (pval, 0.026)):
        p.add_layout(Label(x=0, y=yy, text=txt, text_align="left", text_baseline="middle",
                           text_font=FONT, text_font_size="7.2px", text_color="#333333"))

    leg = Legend(items=items, title=LEGEND_TITLE, location="top_right")
    leg.border_line_color = None
    leg.background_fill_alpha = 0
    leg.margin = 0
    leg.padding = 0
    leg.spacing = 2
    leg.glyph_width = 17
    leg.glyph_height = 9
    leg.label_height = 9
    leg.label_width = 20
    leg.label_standoff = 3
    leg.label_text_font = FONT
    leg.label_text_font_size = "7px"
    leg.title_text_font = FONT
    leg.title_text_font_size = "7px"
    leg.title_text_font_style = "normal"
    leg.title_standoff = 3
    p.add_layout(leg)

    # number-at-risk table, on the same time scale as the curves above
    tab_h = row_h - km_h
    upp = (x1 - x0) / FRAME_W
    tab = figure(width=PANEL_W, height=tab_h,
                 x_range=Range1d(x0 - TABLE_EXTRA_LEFT * upp, x1), y_range=Range1d(tab_h, 0),
                 x_axis_type=None, y_axis_type=None,
                 output_backend="svg", toolbar_location=None, frame_align=False,
                 min_border_left=LEFT_B - TABLE_EXTRA_LEFT, min_border_right=RIGHT_B,
                 min_border_top=0, min_border_bottom=0)
    tab.outline_line_color = None
    for k, ((ts, ss, cs, risk, color), name) in enumerate(zip(curves, GROUPS)):
        n = len(risk)
        rx = [T * i / (n - 1) for i in range(n)]
        yy = TABLE_ROW_Y[k]
        tab.text(x=rx, y=[yy] * n, text=[str(v) for v in risk], text_align="center",
                 text_baseline="middle", text_font=value(FONT), text_font_size="9px",
                 text_color=color)
        tab.text(x=[0], y=[yy], text=[name], x_offset=-14, text_align="right",
                 text_baseline="middle", text_font=value(FONT), text_font_size="9px",
                 text_color=color)
    return column(p, tab, spacing=0)


def make_lead(letter, h):
    if not letter:
        return Spacer(width=LEAD_W, height=h)
    f = figure(width=LEAD_W, height=h, x_range=Range1d(0, LEAD_W), y_range=Range1d(h, 0),
               x_axis_type=None, y_axis_type=None, output_backend="svg",
               toolbar_location=None, frame_align=False, min_border_left=0,
               min_border_right=0, min_border_top=0, min_border_bottom=0)
    f.outline_line_color = None
    f.text(x=[3], y=[TOP_B - 5], text=[letter], text_align="left",
           text_baseline="middle", text_font=value(FONT), text_font_size="36px",
           text_font_style="bold", text_color="black")
    return f


rows = [Spacer(width=10, height=TOP_PAD)]
for (letter, specs), h in zip(ROWS, ROW_HEIGHTS):
    children = [make_lead(letter, h)] + [make_panel(s, h) for s in specs]
    rows.append(row(*children, spacing=0))

layout = column(*rows, spacing=0)
open("out.html", "w").write(file_html(layout, INLINE, "TFAP2A survival"))
